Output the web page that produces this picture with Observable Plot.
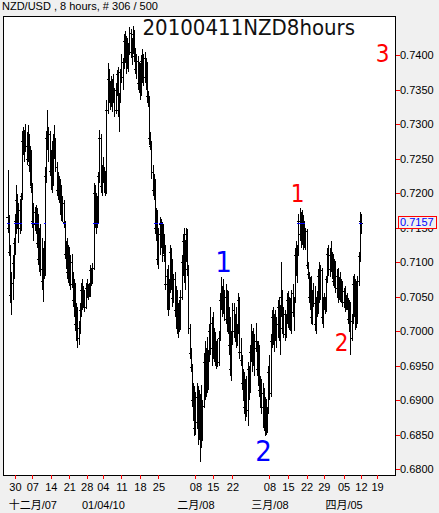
<!DOCTYPE html>
<html>
<head>
<meta charset="utf-8">
<script src="https://cdn.jsdelivr.net/npm/d3@7"></script>
<script src="https://cdn.jsdelivr.net/npm/@observablehq/plot@0.6"></script>
<style>
  html, body { margin: 0; padding: 0; background: #f0f0f0; }
  #wrap { width: 439px; height: 513px; overflow: hidden; }
  #hdr { height: 15px; line-height: 14px; padding-left: 2px; font: 11px "Liberation Sans", Arial, sans-serif; color: #000; white-space: nowrap; }
  #chart svg { display: block; }
</style>
</head>
<body>
<div id="wrap">
  <div id="hdr">NZD/USD , 8 hours, # 306 / 500</div>
  <div id="chart"></div>
</div>
<script>
// NZD/USD 8-hour bars (open, high, low, close), one entry per bar
const open = [
0.7165,0.7150,0.7115,0.7052,0.7070,0.7098,0.7128,0.7160,0.7190,0.7165,
0.7175,0.7150,0.7195,0.7275,0.7262,0.7285,0.7268,0.7250,0.7280,0.7240,
0.7255,0.7208,0.7160,0.7172,0.7155,0.7175,0.7128,0.7105,0.7140,0.7090,
0.7072,0.7110,0.7085,0.7225,0.7280,0.7270,0.7285,0.7232,0.7250,0.7215,
0.7270,0.7260,0.7238,0.7205,0.7222,0.7192,0.7210,0.7172,0.7185,0.7158,
0.7112,0.7120,0.7085,0.7115,0.7072,0.7100,0.7068,0.7045,0.7060,0.7010,
0.7028,0.6990,0.7005,0.7030,0.7060,0.7040,0.7055,0.7035,0.7062,0.7052,
0.7060,0.7055,0.7088,0.7070,0.7092,0.7200,0.7165,0.7190,0.7158,0.7225,
0.7280,0.7210,0.7232,0.7222,0.7225,0.7205,0.7320,0.7365,0.7340,0.7355,
0.7335,0.7350,0.7338,0.7320,0.7350,0.7372,0.7320,0.7335,0.7375,0.7368,
0.7390,0.7420,0.7398,0.7412,0.7390,0.7410,0.7432,0.7405,0.7420,0.7430,
0.7398,0.7380,0.7392,0.7360,0.7382,0.7348,0.7392,0.7372,0.7395,0.7368,
0.7385,0.7340,0.7335,0.7280,0.7268,0.7230,0.7205,0.7215,0.7150,0.7168,
0.7105,0.7140,0.7155,0.7128,0.7150,0.7120,0.7110,0.7068,0.7080,0.7035,
0.7065,0.7115,0.7070,0.7048,0.7075,0.7030,0.7055,0.7005,0.7030,0.7008,
0.7050,0.7100,0.7130,0.7082,0.7120,0.7140,0.7090,0.7005,0.6968,0.6948,
0.6900,0.6915,0.6860,0.6905,0.6868,0.6900,0.6855,0.6890,0.6845,0.6892,
0.6955,0.6912,0.6965,0.6922,0.6960,0.7000,0.6975,0.7012,0.6970,0.6995,
0.6960,0.6975,0.6955,0.6990,0.7045,0.7050,0.7058,0.7032,0.7050,0.7018,
0.7048,0.7000,0.6980,0.6945,0.6990,0.7030,0.7000,0.7018,0.6985,0.7005,
0.7045,0.6970,0.6958,0.6925,0.6935,0.6890,0.6922,0.6885,0.6945,0.6915,
0.6970,0.6965,0.6990,0.6958,0.6985,0.6975,0.6945,0.6975,0.6915,0.6925,
0.6890,0.6910,0.6862,0.6895,0.6858,0.6885,0.6940,0.6910,0.6985,0.7020,
0.6990,0.7015,0.6995,0.7010,0.7035,0.6995,0.7028,0.7050,0.7005,0.7025,
0.6995,0.7018,0.7045,0.7015,0.7040,0.7010,0.7055,0.7028,0.7045,0.7110,
0.7095,0.7115,0.7160,0.7140,0.7165,0.7135,0.7155,0.7130,0.7145,0.7095,
0.7082,0.7050,0.7070,0.7020,0.7052,0.7040,0.7010,0.7042,0.7030,0.7080,
0.7050,0.7088,0.7020,0.7040,0.7048,0.7032,0.7075,0.7112,0.7090,0.7110,
0.7095,0.7108,0.7072,0.7098,0.7062,0.7080,0.7050,0.7070,0.7048,0.7065,
0.7042,0.7058,0.7035,0.7045,0.7038,0.7018,0.7035,0.6990,0.7015,0.7068,
0.7030,0.7065,0.7015,0.7072,0.7108,0.7160];

const high = [
0.7233,0.7168,0.7125,0.7085,0.7110,0.7135,0.7170,0.7212,0.7198,0.7185,
0.7192,0.7200,0.7290,0.7296,0.7292,0.7300,0.7288,0.7298,0.7285,0.7268,
0.7262,0.7215,0.7185,0.7180,0.7182,0.7178,0.7170,0.7150,0.7155,0.7135,
0.7120,0.7130,0.7238,0.7290,0.7320,0.7295,0.7290,0.7262,0.7275,0.7285,
0.7298,0.7280,0.7245,0.7230,0.7225,0.7220,0.7212,0.7195,0.7190,0.7160,
0.7130,0.7135,0.7125,0.7122,0.7110,0.7112,0.7085,0.7075,0.7070,0.7040,
0.7035,0.7015,0.7040,0.7070,0.7075,0.7065,0.7060,0.7070,0.7075,0.7068,
0.7070,0.7095,0.7092,0.7098,0.7215,0.7212,0.7200,0.7195,0.7230,0.7292,
0.7285,0.7240,0.7252,0.7238,0.7232,0.7335,0.7388,0.7380,0.7362,0.7370,
0.7365,0.7372,0.7352,0.7360,0.7378,0.7382,0.7345,0.7380,0.7402,0.7395,
0.7430,0.7435,0.7428,0.7425,0.7418,0.7440,0.7438,0.7425,0.7442,0.7436,
0.7410,0.7402,0.7398,0.7390,0.7388,0.7400,0.7408,0.7402,0.7405,0.7395,
0.7390,0.7348,0.7340,0.7288,0.7275,0.7240,0.7228,0.7220,0.7178,0.7175,
0.7150,0.7165,0.7162,0.7158,0.7155,0.7140,0.7125,0.7090,0.7095,0.7075,
0.7125,0.7120,0.7105,0.7082,0.7085,0.7065,0.7060,0.7040,0.7045,0.7060,
0.7110,0.7140,0.7150,0.7132,0.7150,0.7148,0.7095,0.7010,0.6975,0.6952,
0.6925,0.6920,0.6912,0.6925,0.6920,0.6915,0.6908,0.6922,0.6900,0.6968,
0.6985,0.6975,0.6992,0.6972,0.7010,0.7035,0.7020,0.7028,0.7005,0.6998,
0.6985,0.6988,0.7000,0.7055,0.7078,0.7065,0.7075,0.7060,0.7068,0.7060,
0.7058,0.7035,0.7020,0.7000,0.7040,0.7040,0.7025,0.7035,0.7010,0.7055,
0.7050,0.6990,0.6965,0.6945,0.6940,0.6930,0.6935,0.6955,0.6950,0.6980,
0.7010,0.7000,0.7005,0.6995,0.7012,0.6985,0.6985,0.6980,0.6935,0.6930,
0.6925,0.6918,0.6905,0.6902,0.6890,0.6950,0.6965,0.6995,0.7030,0.7035,
0.7025,0.7030,0.7020,0.7045,0.7050,0.7038,0.7100,0.7060,0.7035,0.7030,
0.7025,0.7055,0.7058,0.7050,0.7048,0.7060,0.7068,0.7050,0.7120,0.7130,
0.7125,0.7170,0.7178,0.7172,0.7175,0.7168,0.7160,0.7150,0.7148,0.7100,
0.7085,0.7078,0.7080,0.7060,0.7070,0.7065,0.7050,0.7058,0.7090,0.7100,
0.7095,0.7092,0.7050,0.7055,0.7050,0.7080,0.7120,0.7125,0.7120,0.7130,
0.7115,0.7112,0.7105,0.7102,0.7090,0.7092,0.7078,0.7085,0.7075,0.7072,
0.7062,0.7065,0.7052,0.7055,0.7048,0.7045,0.7042,0.7025,0.7080,0.7082,
0.7075,0.7072,0.7080,0.7115,0.7172,0.7170];

const low = [
0.7142,0.7108,0.7040,0.7023,0.7045,0.7075,0.7110,0.7140,0.7148,0.7128,
0.7140,0.7145,0.7190,0.7255,0.7245,0.7260,0.7240,0.7245,0.7230,0.7210,
0.7200,0.7150,0.7130,0.7145,0.7140,0.7120,0.7095,0.7085,0.7080,0.7060,
0.7042,0.7075,0.7080,0.7215,0.7262,0.7245,0.7225,0.7205,0.7200,0.7210,
0.7250,0.7230,0.7195,0.7190,0.7185,0.7168,0.7160,0.7158,0.7150,0.7105,
0.7090,0.7075,0.7070,0.7065,0.7060,0.7062,0.7035,0.7020,0.7000,0.6985,
0.6975,0.6980,0.6995,0.7020,0.7030,0.7035,0.7028,0.7032,0.7048,0.7045,
0.7050,0.7050,0.7065,0.7068,0.7088,0.7150,0.7140,0.7150,0.7155,0.7215,
0.7200,0.7195,0.7215,0.7200,0.7195,0.7198,0.7315,0.7330,0.7320,0.7325,
0.7318,0.7330,0.7310,0.7315,0.7340,0.7310,0.7288,0.7330,0.7360,0.7350,
0.7380,0.7388,0.7372,0.7380,0.7375,0.7400,0.7395,0.7385,0.7402,0.7390,
0.7372,0.7365,0.7350,0.7345,0.7335,0.7340,0.7360,0.7355,0.7360,0.7350,
0.7330,0.7325,0.7270,0.7262,0.7220,0.7195,0.7190,0.7140,0.7130,0.7095,
0.7090,0.7110,0.7120,0.7100,0.7112,0.7100,0.7060,0.7030,0.7022,0.7030,
0.7055,0.7060,0.7035,0.7040,0.7020,0.7005,0.6995,0.6990,0.6998,0.7002,
0.7045,0.7080,0.7070,0.7060,0.7100,0.7080,0.6995,0.6960,0.6940,0.6890,
0.6870,0.6848,0.6850,0.6858,0.6835,0.6842,0.6810,0.6830,0.6840,0.6888,
0.6900,0.6905,0.6910,0.6915,0.6955,0.6965,0.6950,0.6960,0.6955,0.6950,
0.6945,0.6948,0.6950,0.6985,0.7030,0.7020,0.7025,0.7015,0.7010,0.7000,
0.6995,0.6965,0.6935,0.6928,0.6980,0.6990,0.6985,0.6975,0.6978,0.6995,
0.6960,0.6950,0.6915,0.6898,0.6880,0.6870,0.6875,0.6862,0.6900,0.6910,
0.6955,0.6940,0.6950,0.6935,0.6970,0.6935,0.6920,0.6905,0.6890,0.6880,
0.6860,0.6855,0.6848,0.6850,0.6852,0.6880,0.6900,0.6905,0.6975,0.6980,
0.6970,0.6985,0.6975,0.6990,0.6985,0.6965,0.7020,0.6995,0.6990,0.6985,
0.6990,0.7010,0.7005,0.7002,0.7000,0.6995,0.7020,0.7000,0.7040,0.7080,
0.7070,0.7108,0.7130,0.7120,0.7125,0.7118,0.7120,0.7118,0.7090,0.7075,
0.7040,0.7030,0.7010,0.7008,0.7035,0.7000,0.6995,0.7020,0.7025,0.7040,
0.7045,0.7010,0.7005,0.7030,0.7025,0.7028,0.7070,0.7080,0.7078,0.7085,
0.7075,0.7065,0.7062,0.7055,0.7048,0.7040,0.7045,0.7042,0.7040,0.7035,
0.7035,0.7028,0.7030,0.7030,0.7010,0.6998,0.6965,0.6985,0.7010,0.7020,
0.7002,0.7005,0.7010,0.7065,0.7100,0.7140];

const close = [
0.7150,0.7115,0.7052,0.7070,0.7098,0.7128,0.7160,0.7190,0.7165,0.7175,
0.7150,0.7195,0.7275,0.7262,0.7285,0.7268,0.7250,0.7280,0.7240,0.7255,
0.7208,0.7160,0.7172,0.7155,0.7175,0.7128,0.7105,0.7140,0.7090,0.7072,
0.7110,0.7085,0.7225,0.7280,0.7270,0.7285,0.7232,0.7250,0.7215,0.7270,
0.7260,0.7238,0.7205,0.7222,0.7192,0.7210,0.7172,0.7185,0.7158,0.7112,
0.7120,0.7085,0.7115,0.7072,0.7100,0.7068,0.7045,0.7060,0.7010,0.7028,
0.6990,0.7005,0.7030,0.7060,0.7040,0.7055,0.7035,0.7062,0.7052,0.7060,
0.7055,0.7088,0.7070,0.7092,0.7200,0.7165,0.7190,0.7158,0.7225,0.7280,
0.7210,0.7232,0.7222,0.7225,0.7205,0.7320,0.7365,0.7340,0.7355,0.7335,
0.7350,0.7338,0.7320,0.7350,0.7372,0.7320,0.7335,0.7375,0.7368,0.7390,
0.7420,0.7398,0.7412,0.7390,0.7410,0.7432,0.7405,0.7420,0.7430,0.7398,
0.7380,0.7392,0.7360,0.7382,0.7348,0.7392,0.7372,0.7395,0.7368,0.7385,
0.7340,0.7335,0.7280,0.7268,0.7230,0.7205,0.7215,0.7150,0.7168,0.7105,
0.7140,0.7155,0.7128,0.7150,0.7120,0.7110,0.7068,0.7080,0.7035,0.7065,
0.7115,0.7070,0.7048,0.7075,0.7030,0.7055,0.7005,0.7030,0.7008,0.7050,
0.7100,0.7130,0.7082,0.7120,0.7140,0.7090,0.7005,0.6968,0.6948,0.6900,
0.6915,0.6860,0.6905,0.6868,0.6900,0.6855,0.6890,0.6845,0.6892,0.6955,
0.6912,0.6965,0.6922,0.6960,0.7000,0.6975,0.7012,0.6970,0.6995,0.6960,
0.6975,0.6955,0.6990,0.7045,0.7050,0.7058,0.7032,0.7050,0.7018,0.7048,
0.7000,0.6980,0.6945,0.6990,0.7030,0.7000,0.7018,0.6985,0.7005,0.7045,
0.6970,0.6958,0.6925,0.6935,0.6890,0.6922,0.6885,0.6945,0.6915,0.6970,
0.6965,0.6990,0.6958,0.6985,0.6975,0.6945,0.6975,0.6915,0.6925,0.6890,
0.6910,0.6862,0.6895,0.6858,0.6885,0.6940,0.6910,0.6985,0.7020,0.6990,
0.7015,0.6995,0.7010,0.7035,0.6995,0.7028,0.7050,0.7005,0.7025,0.6995,
0.7018,0.7045,0.7015,0.7040,0.7010,0.7055,0.7028,0.7045,0.7110,0.7095,
0.7115,0.7160,0.7140,0.7165,0.7135,0.7155,0.7130,0.7145,0.7095,0.7082,
0.7050,0.7070,0.7020,0.7052,0.7040,0.7010,0.7042,0.7030,0.7080,0.7050,
0.7088,0.7020,0.7040,0.7048,0.7032,0.7075,0.7112,0.7090,0.7110,0.7095,
0.7108,0.7072,0.7098,0.7062,0.7080,0.7050,0.7070,0.7048,0.7065,0.7042,
0.7058,0.7035,0.7045,0.7038,0.7018,0.7035,0.6990,0.7015,0.7068,0.7030,
0.7065,0.7015,0.7072,0.7108,0.7160,0.7157];

// Price axis ticks
const priceTicks = [0.6800,0.6850,0.6900,0.6950,0.7000,0.7050,0.7100,0.7150,0.7200,0.7250,0.7300,0.7350,0.7400];

// Time axis: bar index at the start of each week, with its day label
const weekBars   = [6, 21, 37, 53, 68, 82, 98, 114, 130, 162, 177, 194, 226, 242, 258, 273, 290, 305, 319];
const weekLabels = ["30","07","14","21","28","04","11","18","25","08","15","22","08","15","22","29","05","12","19"];
const monthBars   = [21, 82, 162, 226, 290];
const monthLabels = ["十二月/07", "01/04/10", "二月/08", "三月/08", "四月/05"];

// Wave count annotations
const waveText   = ["1", "2", "1", "2", "3"];
const waveBar    = [185.8, 220.4, 249.8, 287.8, 323.3];
const wavePrice  = [0.7100, 0.6826, 0.71985, 0.69826, 0.74015];
const waveSeries = ["blue", "blue", "red", "red", "red"];

const title = "20100411NZD8hours";

const bars = close.map((c, i) => ({i, o: open[i], h: high[i], l: low[i], c}));
const bid = close[close.length - 1];
const bidText = bid.toFixed(4);
const waves = waveText.map((t, k) => ({t, i: waveBar[k], p: wavePrice[k], s: waveSeries[k]}));

const sans = "'Liberation Sans', Arial, 'Noto Sans CJK SC', sans-serif";
const tahomaLike = "'DejaVu Sans Condensed', 'DejaVu Sans', sans-serif";
const crisp = {shapeRendering: "crispEdges"};

const chart = Plot.plot({
  width: 439,
  height: 498,
  marginTop: 0.5,
  marginBottom: 38.5,
  marginLeft: 2.5,
  marginRight: 44.5,
  style: {background: "transparent", fontFamily: sans, fontSize: "11px", color: "black"},
  x: {type: "linear", domain: [-4.75, 334.05], axis: null},
  y: {domain: [0.679203, 0.745725], axis: null},
  marks: [
    Plot.frame({fill: "white", stroke: null}),
    // high-low range of each bar
    Plot.ruleX(bars, {x: "i", y1: "l", y2: "h", stroke: "black", strokeWidth: 1, ...crisp}),
    // open tick (left) and close tick (right)
    Plot.ruleY(bars, {y: "o", x1: d => d.i - 1.8, x2: "i", stroke: "black", ...crisp}),
    Plot.ruleY(bars, {y: "c", x1: "i", x2: d => d.i + 1.8, stroke: "black", ...crisp}),
    // bid level shown across the bars that trade through it
    Plot.ruleY(bars.filter(d => d.l <= bid && d.h >= bid),
      {y: () => bid, x1: d => d.i - 0.8, x2: d => d.i + 0.8, stroke: "#0000ff", ...crisp}),
    // wave counts
    Plot.text(waves.filter(d => d.s === "blue"),
      {x: "i", y: "p", text: "t", fill: "#0000ff", fontSize: 29, fontFamily: tahomaLike}),
    Plot.text(waves.filter(d => d.s === "red"),
      {x: "i", y: "p", text: "t", fill: "#ff0000", fontSize: 24, fontFamily: tahomaLike}),
    // chart title
    Plot.text([title], {text: d => d, frameAnchor: "top-left", dx: 139.5, dy: 3,
      lineAnchor: "top", textAnchor: "start", fontSize: 22, fontFamily: tahomaLike, fill: "#111"}),
    Plot.frame({stroke: "black", ...crisp}),
    // price axis
    Plot.axisY(priceTicks, {anchor: "right", tickSize: 4, tickPadding: 1, stroke: "#ff0000",
      fill: "black", tickFormat: d3.format(".4f"), label: null, ...crisp}),
    // time axis: days, then months
    Plot.axisX(weekBars, {anchor: "bottom", tickSize: 4, tickPadding: 4, stroke: "#ff0000", fill: "black",
      tickFormat: d => weekLabels[weekBars.indexOf(d)], label: null, ...crisp}),
    Plot.axisX(monthBars, {anchor: "bottom", tickSize: 0, tickPadding: 26, fill: "black",
      tickFormat: d => monthLabels[monthBars.indexOf(d)], label: null}),
    // last price label
    Plot.text([bid], {y: d => d, text: () => bidText, frameAnchor: "right", dx: 5, dy: -1,
      textAnchor: "start", fill: "#0000ff"})
  ]
});

document.getElementById("chart").append(chart);

// Box around the last price label, hiding the axis label behind it
d3.select(chart).selectAll("text")
  .filter(function () { return this.textContent === bidText; })
  .each(function () {
    const b = this.getBBox();
    d3.select(this.parentNode).insert("rect", () => this)
      .attr("x", Math.round(b.x - 2) + 0.5)
      .attr("y", Math.round(b.y) + 0.5)
      .attr("width", Math.round(b.width + 4))
      .attr("height", Math.round(b.height))
      .attr("transform", this.getAttribute("transform"))
      .attr("fill", "#f0f0f0")
      .attr("stroke", "#ff0000")
      .attr("shape-rendering", "crispEdges");
  });
</script>
</body>
</html>
